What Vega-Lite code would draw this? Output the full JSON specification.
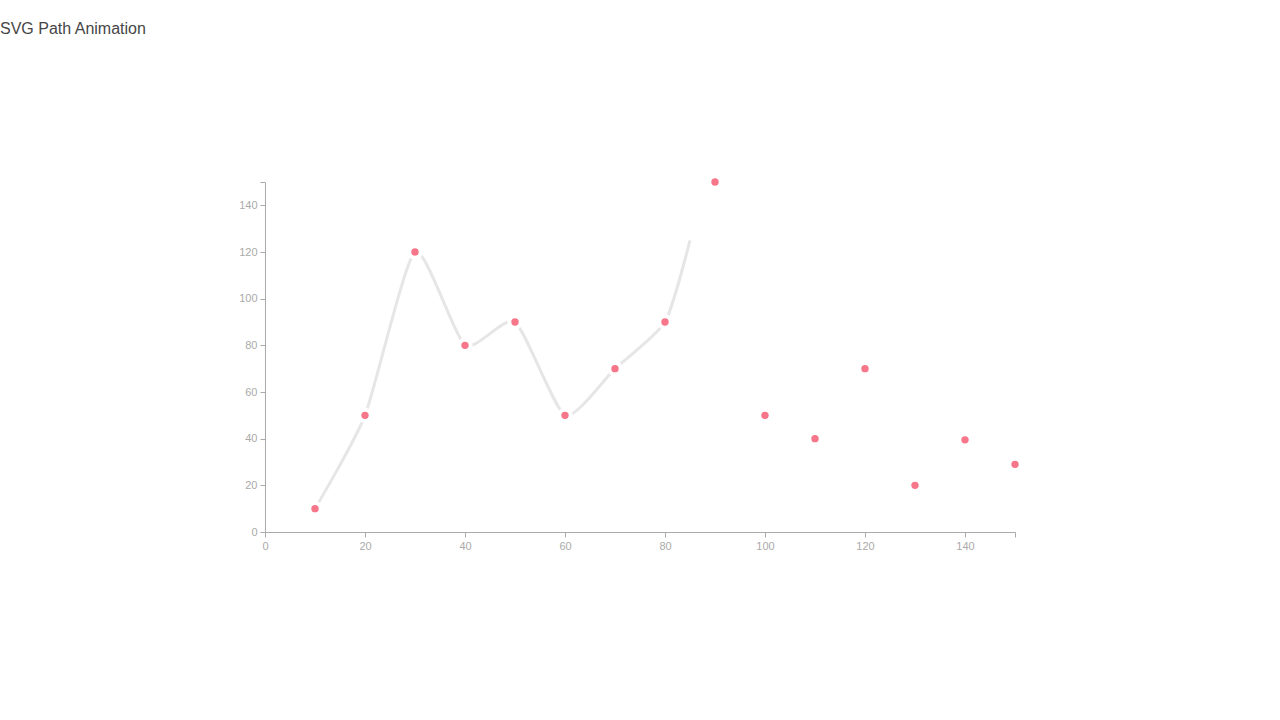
{
  "$schema": "https://vega.github.io/schema/vega-lite/v6.json",
  "autosize": {"type": "none"},
  "padding": {"left": 265, "top": 182, "right": 265, "bottom": 188},
  "width": 750,
  "height": 350,
  "background": "white",
  "title": {
    "text": "SVG Path Animation",
    "anchor": "start",
    "frame": "group",
    "dx": -265,
    "offset": 131,
    "font": "Liberation Sans",
    "fontSize": 16,
    "fontWeight": "normal",
    "color": "#464646"
  },
  "datasets": {
    "points": [
      {"x": 10, "y": 10},
      {"x": 20, "y": 50},
      {"x": 30, "y": 120},
      {"x": 40, "y": 80},
      {"x": 50, "y": 90},
      {"x": 60, "y": 50},
      {"x": 70, "y": 70},
      {"x": 80, "y": 90},
      {"x": 90, "y": 150},
      {"x": 100, "y": 50},
      {"x": 110, "y": 40},
      {"x": 120, "y": 70},
      {"x": 130, "y": 20},
      {"x": 140, "y": 39.5},
      {"x": 150, "y": 29}
    ],
    "path": [
      {"x": 10, "y": 10},
      {"x": 20, "y": 50},
      {"x": 30, "y": 120},
      {"x": 40, "y": 80},
      {"x": 50, "y": 90},
      {"x": 60, "y": 50},
      {"x": 70, "y": 70},
      {"x": 80, "y": 90},
      {"x": 85, "y": 125}
    ]
  },
  "encoding": {
    "x": {
      "field": "x",
      "type": "quantitative",
      "scale": {"domain": [0, 150], "nice": false},
      "axis": {
        "title": null,
        "values": [0, 20, 40, 60, 80, 100, 120, 140, 150],
        "labelExpr": "datum.value == 150 ? '' : datum.label"
      }
    },
    "y": {
      "field": "y",
      "type": "quantitative",
      "scale": {"domain": [0, 150], "nice": false},
      "axis": {
        "title": null,
        "values": [0, 20, 40, 60, 80, 100, 120, 140, 150],
        "labelExpr": "datum.value == 150 ? '' : datum.label"
      }
    }
  },
  "layer": [
    {
      "data": {"name": "path"},
      "mark": {
        "type": "line",
        "interpolate": "cardinal",
        "tension": 0.4,
        "color": "#e6e6e6",
        "strokeWidth": 3,
        "clip": false
      }
    },
    {
      "data": {"name": "points"},
      "mark": {
        "type": "point",
        "shape": "circle",
        "filled": true,
        "size": 130,
        "color": "#f7768a",
        "opacity": 1,
        "stroke": "white",
        "strokeWidth": 4,
        "clip": false
      }
    }
  ],
  "config": {
    "view": {"stroke": null},
    "axis": {
      "grid": false,
      "domainColor": "#aaaaaa",
      "tickColor": "#aaaaaa",
      "tickSize": 5,
      "labelColor": "#aaaaaa",
      "labelFont": "Liberation Sans",
      "labelFontSize": 11,
      "labelPadding": 3,
      "labelFlush": false
    }
  }
}
